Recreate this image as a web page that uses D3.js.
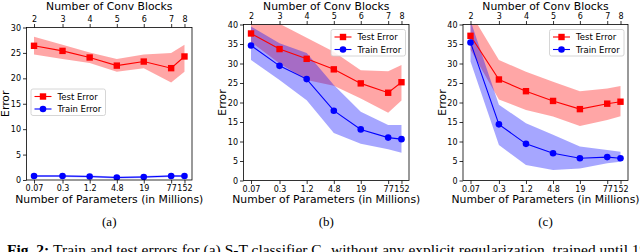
<!DOCTYPE html>
<html>
<head>
<meta charset="utf-8">
<script src="https://cdn.jsdelivr.net/npm/d3@7"></script>
<style>
  body { margin: 0; background: #fff; }
  svg { display: block; }
  text { font-family: "DejaVu Sans", sans-serif; }
  text.serif, text.serif tspan { font-family: "Liberation Serif", "DejaVu Serif", serif; }
</style>
</head>
<body>
<svg id="chart" width="640" height="252"></svg>
<script>
// x positions: parameters (millions), log scale; top axis = conv blocks
const params = [0.07, 0.3, 1.2, 4.8, 19, 77, 152]
const paramLabels = ["0.07", "0.3", "1.2", "4.8", "19", "77", "152"]
const blockLabels = ["2", "3", "4", "5", "6", "7", "8"]

// panel (a)
const testA   = [26.4, 25.4, 24.1, 22.5, 23.3, 22.0, 24.3]
const testAHi = [28.2, 26.6, 25.1, 23.8, 24.7, 25.0, 26.6]
const testALo = [24.7, 23.8, 23.0, 21.3, 22.0, 19.2, 21.3]
const trainA   = [0.8, 0.8, 0.7, 0.5, 0.6, 0.8, 0.8]
const trainAHi = [1.0, 1.0, 0.9, 0.7, 0.8, 1.0, 1.0]
const trainALo = [0.6, 0.6, 0.5, 0.3, 0.4, 0.6, 0.6]

// panel (b)
const testB   = [37.7, 33.7, 31.2, 28.5, 24.9, 22.5, 25.2]
const testBHi = [41.5, 40.2, 36.6, 33.0, 28.3, 28.0, 29.6]
const testBLo = [35.5, 30.0, 25.8, 24.3, 21.0, 17.4, 20.5]
const trainB   = [34.6, 29.4, 26.0, 17.9, 13.1, 11.0, 10.6]
const trainBHi = [39.5, 35.2, 32.7, 24.5, 17.6, 14.2, 14.2]
const trainBLo = [30.9, 25.8, 20.6, 12.2, 9.4, 8.0, 7.1]

// panel (c)
const testC   = [37.1, 25.9, 22.9, 20.4, 18.3, 19.7, 20.2]
const testCHi = [43.0, 30.9, 27.9, 25.3, 22.9, 23.6, 24.2]
const testCLo = [33.5, 20.8, 18.1, 16.4, 14.0, 15.5, 16.5]
const trainC   = [35.4, 14.4, 9.4, 7.0, 5.7, 6.0, 5.7]
const trainCHi = [41.0, 19.4, 14.7, 11.7, 8.7, 7.8, 7.4]
const trainCLo = [30.5, 9.1, 4.0, 2.7, 3.1, 4.4, 4.8]

const yTicksA = [0, 5, 10, 15, 20, 25, 30]
const yTicksBC = [0, 5, 10, 15, 20, 25, 30, 35, 40]

const panels = [
  { id: "a", left: 26.5, right: 192, top: 27.5, bottom: 180, ymax: 30, yTicks: yTicksA,
    test: [testA, testALo, testAHi], train: [trainA, trainALo, trainAHi],
    legend: { x: 31, y: 89 } },
  { id: "b", left: 243.5, right: 409, top: 24.5, bottom: 180.5, ymax: 40, yTicks: yTicksBC,
    test: [testB, testBLo, testBHi], train: [trainB, trainBLo, trainBHi],
    legend: { x: 331, y: 29.5 } },
  { id: "c", left: 463, right: 628, top: 24.5, bottom: 180.5, ymax: 40, yTicks: yTicksBC,
    test: [testC, testCLo, testCHi], train: [trainC, trainCLo, trainCHi],
    legend: { x: 549.5, y: 29.5 } }
]

const svg = d3.select("#chart")
const tickFont = "8px", labelFont = "10.8px"

// matplotlib style 5% margin on a log axis
const lmin = Math.log10(d3.min(params)), lmax = Math.log10(d3.max(params))
const pad = (lmax - lmin) * 0.05

panels.forEach(p => {
  const g = svg.append("g")
  const x = d3.scaleLog()
    .domain([Math.pow(10, lmin - pad), Math.pow(10, lmax + pad)])
    .range([p.left, p.right])
  const y = d3.scaleLinear().domain([0, p.ymax]).range([p.bottom, p.top])

  const clipId = "clip-" + p.id
  g.append("clipPath").attr("id", clipId)
    .append("rect")
    .attr("x", p.left).attr("y", p.top)
    .attr("width", p.right - p.left).attr("height", p.bottom - p.top)

  const plot = g.append("g").attr("clip-path", `url(#${clipId})`)

  const area = d3.area()
    .x((d, i) => x(params[i]))
    .y0(d => y(d[0]))
    .y1(d => y(d[1]))
  const line = d3.line()
    .x((d, i) => x(params[i]))
    .y(d => y(d))

  const bandData = s => s[1].map((lo, i) => [lo, s[2][i]])

  // bands
  plot.append("path").datum(bandData(p.test))
    .attr("d", area).attr("fill", "red").attr("fill-opacity", 0.35)
  plot.append("path").datum(bandData(p.train))
    .attr("d", area).attr("fill", "blue").attr("fill-opacity", 0.35)

  // lines
  plot.append("path").datum(p.test[0])
    .attr("d", line).attr("fill", "none").attr("stroke", "red").attr("stroke-width", 1.1)
  plot.append("path").datum(p.train[0])
    .attr("d", line).attr("fill", "none").attr("stroke", "blue").attr("stroke-width", 1.1)

  // markers
  plot.append("g").selectAll("rect").data(p.test[0]).join("rect")
    .attr("x", (d, i) => x(params[i]) - 3.2)
    .attr("y", d => y(d) - 3.2)
    .attr("width", 6.4).attr("height", 6.4)
    .attr("fill", "red")
  plot.append("g").selectAll("circle").data(p.train[0]).join("circle")
    .attr("cx", (d, i) => x(params[i]))
    .attr("cy", d => y(d))
    .attr("r", 3.3)
    .attr("fill", "blue")

  // axes
  const styleAxis = a => {
    a.select(".domain").remove()
    a.selectAll(".tick line").attr("stroke", "#000").attr("stroke-width", 0.8)
    a.selectAll(".tick text").attr("font-size", tickFont).attr("fill", "#000")
  }
  g.append("g").attr("transform", `translate(0,${p.bottom})`)
    .call(d3.axisBottom(x).tickValues(params).tickFormat((d, i) => paramLabels[i])
      .tickSize(3.5).tickPadding(2))
    .call(styleAxis)
  g.append("g").attr("transform", `translate(0,${p.top})`)
    .call(d3.axisTop(x).tickValues(params).tickFormat((d, i) => blockLabels[i])
      .tickSize(3.5).tickPadding(2))
    .call(styleAxis)
  g.append("g").attr("transform", `translate(${p.left},0)`)
    .call(d3.axisLeft(y).tickValues(p.yTicks).tickFormat(d3.format("d"))
      .tickSize(3.5).tickPadding(2))
    .call(styleAxis)

  // frame
  g.append("rect")
    .attr("x", p.left).attr("y", p.top)
    .attr("width", p.right - p.left).attr("height", p.bottom - p.top)
    .attr("fill", "none").attr("stroke", "#000").attr("stroke-width", 0.8)

  const cx = (p.left + p.right) / 2
  g.append("text").text("Number of Conv Blocks")
    .attr("x", cx).attr("y", 10).attr("text-anchor", "middle")
    .attr("font-size", labelFont)
  g.append("text").text("Number of Parameters (in Millions)")
    .attr("x", cx).attr("y", 202.5).attr("text-anchor", "middle")
    .attr("font-size", labelFont)
  g.append("text").text("Error")
    .attr("transform", `translate(${p.left - 17.5},${(p.top + p.bottom) / 2}) rotate(-90)`)
    .attr("text-anchor", "middle")
    .attr("font-size", labelFont)
  g.append("text").text(`(${p.id})`)
    .attr("class", "serif")
    .attr("x", cx).attr("y", 226).attr("text-anchor", "middle")
    .attr("font-size", "13px")

  // legend
  const lg = g.append("g").attr("transform", `translate(${p.legend.x},${p.legend.y})`)
  lg.append("rect").attr("width", 74.5).attr("height", 26.5).attr("rx", 2)
    .attr("fill", "#fff").attr("fill-opacity", 0.85)
    .attr("stroke", "#ccc").attr("stroke-width", 0.8)
  const entries = [
    { name: "Test Error", color: "red", shape: "square" },
    { name: "Train Error", color: "blue", shape: "circle" }
  ]
  entries.forEach((e, i) => {
    const ey = 7.5 + i * 12.5
    lg.append("line").attr("x1", 3.5).attr("x2", 20.5).attr("y1", ey).attr("y2", ey)
      .attr("stroke", e.color).attr("stroke-width", 1.1)
    if (e.shape === "square") {
      lg.append("rect").attr("x", 12 - 3.2).attr("y", ey - 3.2)
        .attr("width", 6.4).attr("height", 6.4).attr("fill", e.color)
    } else {
      lg.append("circle").attr("cx", 12).attr("cy", ey).attr("r", 3.3).attr("fill", e.color)
    }
    lg.append("text").text(e.name)
      .attr("x", 26.5).attr("y", ey + 3)
      .attr("font-size", "8.5px")
  })
})

// figure caption (cut by the bottom edge, as in the source page)
svg.append("text")
  .attr("class", "serif")
  .attr("x", 7).attr("y", 254.5)
  .attr("font-size", "15.5px")
  .call(t => {
    t.append("tspan").attr("font-weight", "bold").text("Fig. 2: ")
    t.append("tspan").text("Train and test errors for (a) S-T classifier C\u2081 without any explicit regularization, trained until 1%")
  })
</script>
</body>
</html>
